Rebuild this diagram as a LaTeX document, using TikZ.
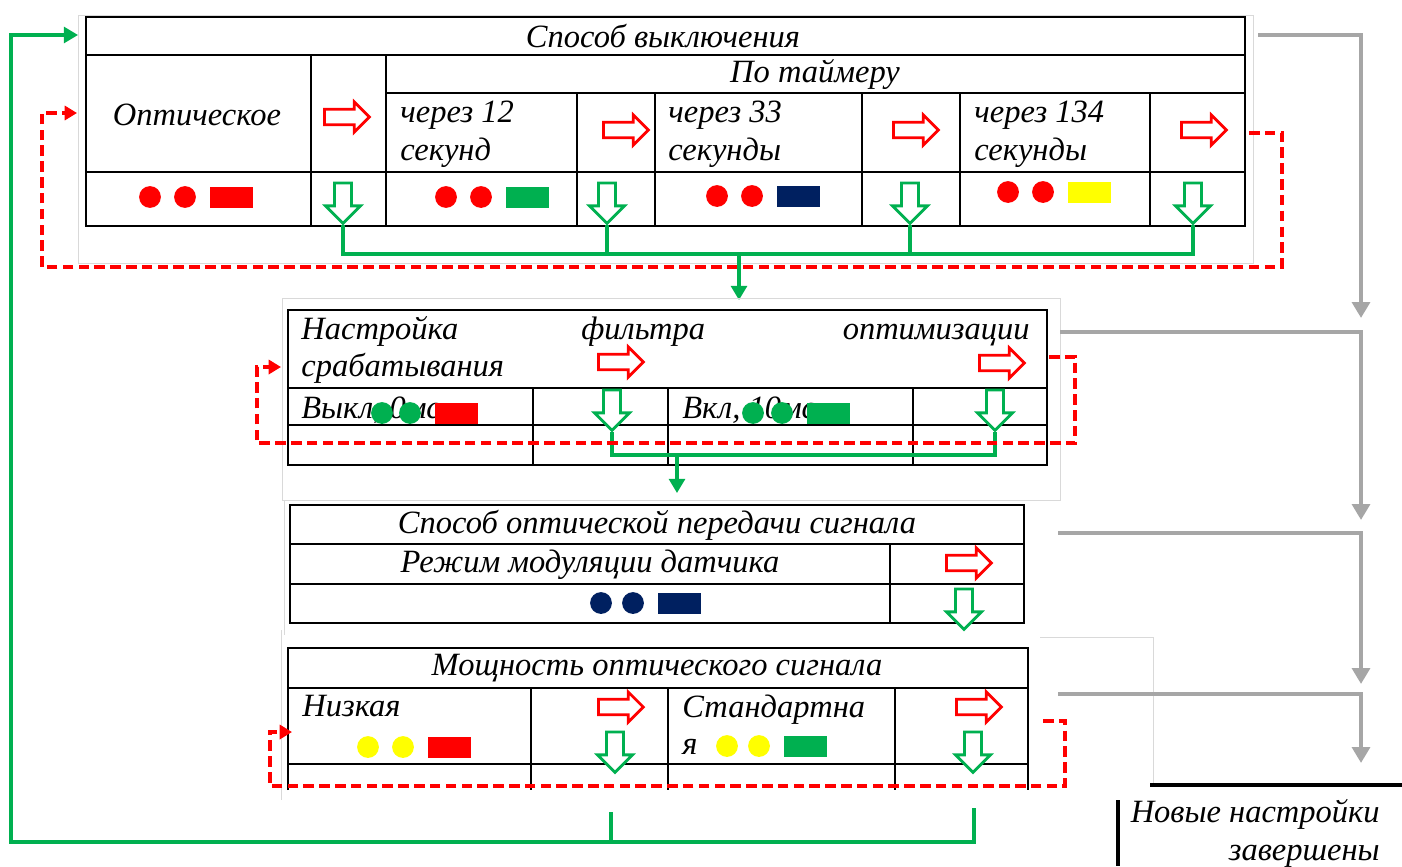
\documentclass[tikz,border=0pt]{standalone}
\usepackage{fontspec}
\setmainfont{Liberation Serif}
\usetikzlibrary{shapes.arrows,arrows.meta,positioning}

\definecolor{xlred}{HTML}{FF0000}
\definecolor{xlgreen}{HTML}{00B050}
\definecolor{xlnavy}{HTML}{002060}
\definecolor{xlyellow}{HTML}{FFFF00}
\definecolor{xlgray}{HTML}{A6A6A6}

% two lamps and a bar: x, y, lamp colour, bar colour, lamp step
\newcommand{\ledrow}[5]{%
  \fill[#3] (#1,#2) circle[radius=6.2pt];
  \fill[#3] (#1+#5,#2) circle[radius=6.2pt];
  \fill[#4] (#1+#5+25,#2-10.5) rectangle (#1+#5+68,#2+10.5);
}

\begin{document}
\begin{tikzpicture}[x=0.02cm, y=-0.02cm,
    txt/.style={font=\fontsize{18.5}{21.5}\selectfont\itshape, inner sep=0pt},
    grid/.style={line width=1.2pt},
    frame/.style={draw=black!15, line width=0.5pt},
    rarrow/.style={single arrow, draw=xlred, line width=1.6pt, fill=white, inner sep=3.6pt,
        minimum height=25.5pt, single arrow head extend=4.2pt},
    darrow/.style={single arrow, draw=xlgreen, line width=1.6pt, fill=white, inner sep=4pt,
        minimum height=23pt, single arrow head extend=5.2pt, shape border rotate=270},
    gline/.style={draw=xlgreen, line width=1.8pt},
    gback/.style={gline, -{Triangle[width=9pt,length=8pt]}},
    rloop/.style={draw=xlred, line width=1.8pt, dash pattern=on 6pt off 3pt, -{Triangle[width=8pt,length=7pt]}},
    graypath/.style={draw=xlgray, line width=2.4pt, -{Triangle[width=10pt,length=9pt]}}]

    \useasboundingbox (0,0) rectangle (1402,866);

    % table 1
    \draw[frame] (78,15) rectangle (1253,263);
    \draw[grid] (86,17) rectangle (1245,226);
    \draw[grid] (86,55) -- (1245,55) (386,93) -- (1245,93) (86,172) -- (1245,172);
    \draw[grid] (311,55) -- (311,226) (386,55) -- (386,226);
    \foreach \x in {577,655,862,960,1150} \draw[grid] (\x,93) -- (\x,226);

    \node[txt] (off) at (663,36) {Способ выключения};
    \node[txt] (optic) at (197,115) {Оптическое};
    \node[txt] (timer) at (815,74) {По таймеру};
    \node[txt, anchor=west, align=left] (s12) at (400,134) {через 12\\секунд};
    \node[txt, anchor=west, align=left] (s33) at (668,134) {через 33\\секунды};
    \node[txt, anchor=west, align=left] (s134) at (974,134) {через 134\\секунды};

    \node[rarrow] (r1) at (343,117) {};
    \node[rarrow] (r2) at (622,130) {};
    \node[rarrow] (r3) at (912,130) {};
    \node[rarrow] (r4) at (1200,130) {};
    \node[darrow] (d1) at (343,199) {};
    \node[darrow] (d2) at (607,199) {};
    \node[darrow] (d3) at (910,199) {};
    \node[darrow] (d4) at (1193,199) {};

    \ledrow{150}{197}{xlred}{xlred}{35}
    \ledrow{446}{197}{xlred}{xlgreen}{35}
    \ledrow{717}{196}{xlred}{xlnavy}{35}
    \ledrow{1008}{192}{xlred}{xlyellow}{35}

    \coordinate (m1) at (739,254);
    \coordinate (in2) at (739,300);
    \draw[gline] (d1.tip) |- (m1) -| (d4.tip);
    \draw[gline] (d2.tip) -- (d2.tip |- m1) (d3.tip) -- (d3.tip |- m1);
    \draw[gback] (m1) -- (in2);

    \coordinate (l1a) at (1249,133);
    \coordinate (l1b) at (1282,267);
    \coordinate (l1c) at (42,113);
    \coordinate (l1d) at (77,113);
    \draw[rloop] (l1a) -| (l1b) -| (l1c) -- (l1d);

    % table 2
    \draw[frame] (282,298) rectangle (1060,500);
    \draw[grid] (288,310) rectangle (1047,465);
    \draw[grid] (288,388) -- (1047,388) (288,425) -- (1047,425);
    \foreach \x in {533,668,913} \draw[grid] (\x,388) -- (\x,465);

    \node[txt, anchor=base west] (tune) at (301,339) {Настройка};
    \node[txt, anchor=base west] (filt) at (581,339) {фильтра};
    \node[txt, anchor=base east] (optim) at (1030,339) {оптимизации};
    \node[txt, anchor=base west] (trig) at (301,376) {срабатывания};
    \node[txt, anchor=base west] (ms0) at (301,418) {Выкл, 0мс};
    \node[txt, anchor=base west] (ms10) at (682,418) {Вкл, 10мс};

    \node[rarrow] (r5) at (617,362) {};
    \node[rarrow] (r6) at (998,363) {};
    \node[darrow] (d5) at (612,406) {};
    \node[darrow] (d6) at (995,406) {};

    \ledrow{382}{413}{xlgreen}{xlred}{28}
    \ledrow{753}{413}{xlgreen}{xlgreen}{29}

    \coordinate (m2) at (677,455);
    \coordinate (in3) at (677,493);
    \draw[gline] (d5.tip) |- (m2) -| (d6.tip);
    \draw[gback] (m2) -- (in3);

    \coordinate (l2a) at (1049,357);
    \coordinate (l2b) at (1075,443);
    \coordinate (l2c) at (257,367);
    \coordinate (l2d) at (281,367);
    \draw[rloop] (l2a) -| (l2b) -| (l2c) -- (l2d);

    % table 3
    \draw[frame] (284,500) -- (284,635);
    \draw[grid] (290,505) rectangle (1024,623);
    \draw[grid] (290,544) -- (1024,544) (290,584) -- (1024,584);
    \draw[grid] (890,544) -- (890,623);

    \node[txt] (mode) at (657,525) {Способ оптической передачи сигнала};
    \node[txt] (modul) at (590,565) {Режим модуляции датчика};
    \node[rarrow] (r7) at (965,563) {};
    \node[darrow] (d7) at (964,605) {};
    \ledrow{601}{603}{xlnavy}{xlnavy}{32}

    % table 4
    \draw[frame] (281,630) -- (281,800) (1040,637) -- (1153,637) -- (1153,785);
    \draw[grid] (288,790) -- (288,648) -- (1028,648) -- (1028,790);
    \draw[grid] (288,688) -- (1028,688) (288,764) -- (1028,764);
    \foreach \x in {531,668,895} \draw[grid] (\x,688) -- (\x,790);

    \node[txt] (power) at (657,668) {Мощность оптического сигнала};
    \node[txt, anchor=base west] (low) at (302,716) {Низкая};
    \node[txt, anchor=base west] (std) at (682,717) {Стандартна};
    \node[txt, anchor=base west] (stdy) at (682,754) {я};

    \node[rarrow] (r8) at (617,707) {};
    \node[rarrow] (r9) at (975,707) {};
    \node[darrow] (d8) at (615,748) {};
    \node[darrow] (d9) at (973,748) {};

    \ledrow{368}{747}{xlyellow}{xlred}{35}
    \ledrow{727}{746}{xlyellow}{xlgreen}{32}

    \coordinate (l3a) at (1043,721);
    \coordinate (l3b) at (1065,786);
    \coordinate (l3c) at (270,732);
    \coordinate (l3d) at (292,732);
    \draw[rloop] (l3a) -| (l3b) -| (l3c) -- (l3d);

    % back to the start
    \coordinate (b1) at (974,808);
    \coordinate (b2) at (611,812);
    \coordinate (gl1) at (11,842);
    \coordinate (back) at (78,35);
    \draw[gback] (b1) |- (gl1) |- (back);
    \draw[gline] (b2) -- (b2 |- gl1);

    % settings done
    \coordinate (e1) at (1258,35);   \coordinate (e1t) at (1361,318);
    \coordinate (e2) at (1060,332);  \coordinate (e2t) at (1361,520);
    \coordinate (e3) at (1058,533);  \coordinate (e3t) at (1361,684);
    \coordinate (e4) at (1058,694);  \coordinate (e4t) at (1361,763);
    \draw[graypath] (e1) -| (e1t);
    \draw[graypath] (e2) -| (e2t);
    \draw[graypath] (e3) -| (e3t);
    \draw[graypath] (e4) -| (e4t);

    \draw[line width=1.8pt] (1150,785) -- (1402,785);
    \draw[line width=1.8pt] (1118,800) -- (1118,866);
    \node[txt, anchor=east, align=right] (fin) at (1380,833) {Новые настройки\\завершены};

\end{tikzpicture}
\end{document}
